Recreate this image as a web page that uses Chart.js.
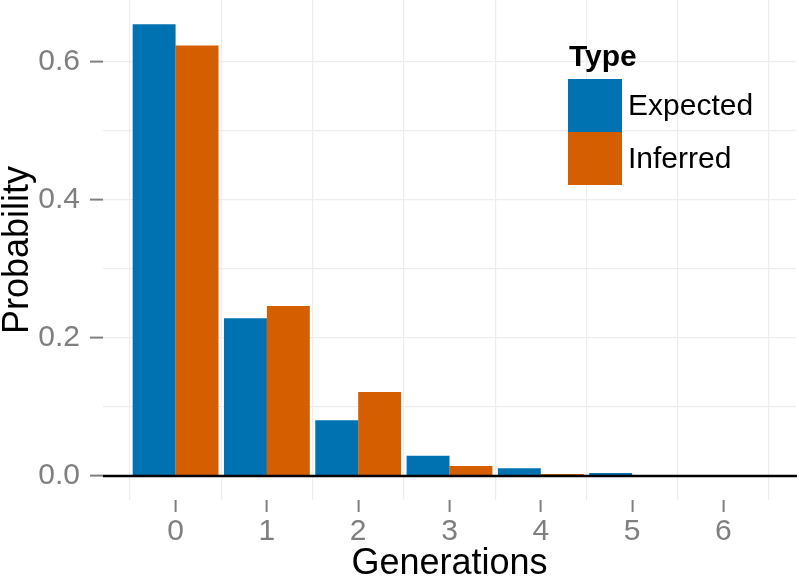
<!DOCTYPE html>
<html>
<head>
<meta charset="utf-8">
<script src="https://cdn.jsdelivr.net/npm/chart.js@4.4.1/dist/chart.umd.min.js"></script>
<style>
  html, body { margin: 0; padding: 0; background: #fff; }
  #wrap { width: 799px; height: 582px; }
</style>
</head>
<body>
<div id="wrap"><canvas id="chart" width="799" height="582"></canvas></div>
<script>
// Données
const generations = [0, 1, 2, 3, 4, 5, 6];
const expected = [0.655, 0.2285, 0.0807, 0.0294, 0.0111, 0.0045, 0.0016];
const inferred = [0.624, 0.2464, 0.1217, 0.0145, 0.0030, 0.0008, 0.0003];
const seriesNames = ['Expected', 'Inferred'];
const seriesColors = ['#0072B2', '#D55E00'];
const yTicks = [0, 0.2, 0.4, 0.6];
const yMinor = [0.1, 0.3, 0.5];

// grille verticale entre les générations
const xGrid = generations.map(g => g - 0.5).concat([generations[generations.length - 1] + 0.5]);

const FONT = "'Liberation Sans', Arial, Helvetica, sans-serif";
const GRID = '#ededed';
const TICK = '#7f7f7f';
const NONE = 'rgba(0,0,0,0)';

const isInt = v => Math.abs(v - Math.round(v)) < 1e-9;
const isMajorY = v => yTicks.some(t => Math.abs(t - v) < 1e-9);

// Ligne noire à y = 0, par-dessus les barres
const zeroLine = {
  id: 'zeroLine',
  afterDatasetsDraw(chart) {
    const { ctx, chartArea, scales } = chart;
    const y = scales.y.getPixelForValue(0);
    ctx.save();
    ctx.strokeStyle = '#000';
    ctx.lineWidth = 2.5;
    ctx.beginPath();
    ctx.moveTo(chartArea.left, y);
    ctx.lineTo(chartArea.right + 1, y);
    ctx.stroke();
    ctx.restore();
  }
};

// Légende "Type" dans la zone du graphique
const typeLegend = {
  id: 'typeLegend',
  afterDraw(chart) {
    const { ctx } = chart;
    const x0 = 568, y0 = 79, w = 54, h = 53;
    ctx.save();
    ctx.fillStyle = '#000';
    ctx.font = 'bold 30px ' + FONT;
    ctx.textBaseline = 'middle';
    ctx.textAlign = 'left';
    ctx.fillText('Type', x0 + 1, 58);
    chart.data.datasets.forEach((ds, i) => {
      ctx.fillStyle = ds.backgroundColor;
      ctx.fillRect(x0, y0 + i * h, w, h);
      ctx.fillStyle = '#000';
      ctx.font = '30px ' + FONT;
      ctx.fillText(ds.label, x0 + w + 6, y0 + i * h + h / 2 + 1);
    });
    ctx.restore();
  }
};

// La grille à ±0.5 divise par deux l'écart minimal vu par Chart.js,
// d'où un pourcentage doublé (0.94 * 2) pour la largeur des barres.
const datasets = [expected, inferred].map((vals, i) => ({
  label: seriesNames[i],
  data: generations.map((g, k) => ({ x: g, y: vals[k] })),
  backgroundColor: seriesColors[i],
  borderWidth: 0,
  categoryPercentage: 1.88,
  barPercentage: 1.0
}));

new Chart(document.getElementById('chart'), {
  type: 'bar',
  data: { datasets: datasets },
  options: {
    responsive: false,
    animation: false,
    devicePixelRatio: 1,
    layout: { padding: { left: 0, right: 3, top: 0, bottom: 0 } },
    plugins: {
      legend: { display: false },
      tooltip: { enabled: false }
    },
    scales: {
      x: {
        type: 'linear',
        min: -0.795,
        max: 6.795,
        offset: false,
        border: { display: false },
        grid: {
          offset: false,
          color: ctx => (ctx.tick && isInt(ctx.tick.value)) ? NONE : GRID,
          lineWidth: 1.2,
          tickColor: ctx => (ctx.tick && isInt(ctx.tick.value)) ? TICK : NONE,
          tickLength: 12,
          tickWidth: 2
        },
        afterBuildTicks: scale => {
          scale.ticks = xGrid.concat(generations).sort((a, b) => a - b).map(v => ({ value: v }));
        },
        ticks: {
          autoSkip: false,
          maxRotation: 0,
          padding: 2,
          color: TICK,
          font: { family: FONT, size: 30 },
          callback: v => isInt(v) ? String(Math.round(v)) : ''
        },
        title: {
          display: true,
          text: 'Generations',
          color: '#000',
          padding: 0,
          font: { family: FONT, size: 36, lineHeight: 1.0 }
        },
        afterFit: scale => {
          scale.height = 82;
          scale.paddingLeft = 0;
          scale.paddingRight = 0;
        }
      },
      y: {
        type: 'linear',
        min: -0.0348,
        max: 0.69,
        border: { display: false },
        grid: {
          color: GRID,
          lineWidth: 1.2,
          tickColor: ctx => (ctx.tick && isMajorY(ctx.tick.value)) ? TICK : NONE,
          tickLength: 13,
          tickWidth: 2
        },
        afterBuildTicks: scale => {
          scale.ticks = yTicks.concat(yMinor).sort((a, b) => a - b).map(v => ({ value: v }));
        },
        ticks: {
          padding: 10,
          color: TICK,
          font: { family: FONT, size: 30 },
          callback: v => isMajorY(v) ? v.toFixed(1) : ''
        },
        title: {
          display: true,
          text: 'Probability',
          color: '#000',
          padding: 0,
          font: { family: FONT, size: 36, lineHeight: 1.0 }
        },
        afterFit: scale => {
          scale.width = 103;
          scale.paddingTop = 0;
          scale.paddingBottom = 0;
        }
      }
    }
  },
  plugins: [zeroLine, typeLegend]
});
</script>
</body>
</html>
